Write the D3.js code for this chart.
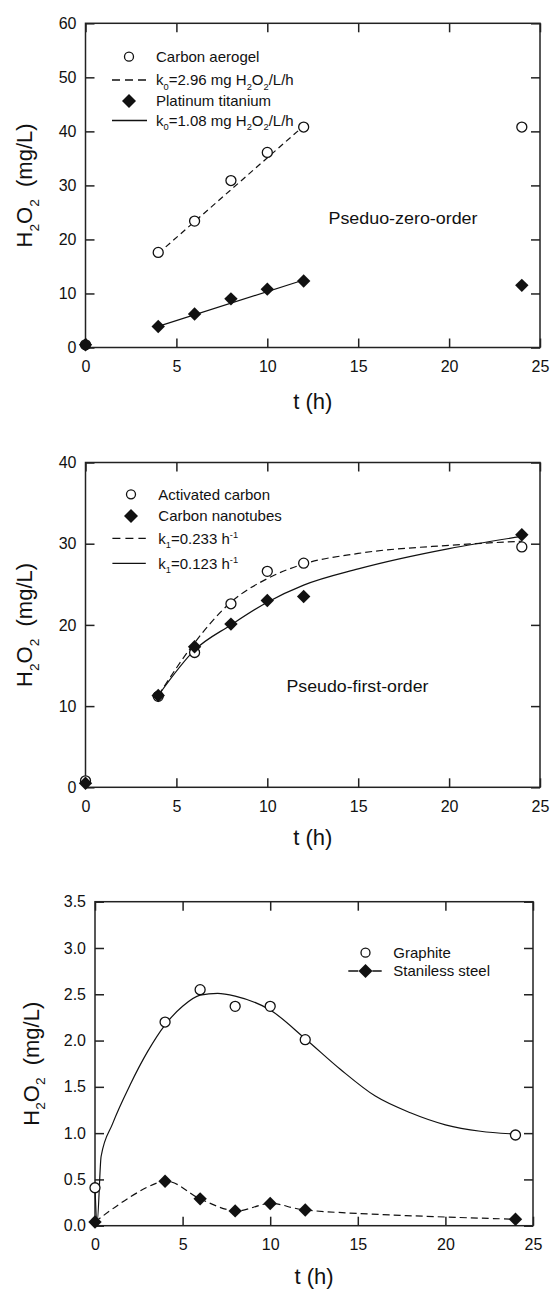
<!DOCTYPE html>
<html>
<head>
<meta charset="utf-8">
<script src="https://cdn.jsdelivr.net/npm/d3@7"></script>
<style>
    body { margin: 0; background: #fff; }
    svg { display: block; font-family: "Liberation Sans", Arial, sans-serif; }
</style>
</head>
<body>
<svg id="chart" width="551" height="1289"></svg>
<script>
// values
const hours = [0, 4, 6, 8, 10, 12, 24];
const xTicks = [0, 5, 10, 15, 20, 25];

// top panel: pseudo-zero-order
const carbonAerogel = [0.5, 17.6, 23.4, 30.9, 36.1, 40.8, 40.8];
const platinumTitanium = [0.5, 3.9, 6.2, 9.0, 10.8, 12.3, 11.5];
const zeroFitHours = [4, 12];
const aerogelFit = [17.4, 41.0];
const platinumFit = [3.9, 12.5];
const yTicksZero = [0, 10, 20, 30, 40, 50, 60];

// middle panel: pseudo-first-order
const activatedCarbon = [0.8, 11.2, 16.6, 22.6, 26.6, 27.6, 29.6];
const carbonNanotubes = [0.5, 11.3, 17.3, 20.1, 23.0, 23.5, 31.1];
const firstFitHours = [4, 6, 8, 10, 12, 15, 20, 24];
const activatedFit = [11.3, 17.8, 22.8, 25.7, 27.5, 28.8, 29.8, 30.3];
const nanotubesFit = [11.3, 16.9, 20.0, 22.8, 24.9, 26.9, 29.4, 30.9];
const yTicksFirst = [0, 10, 20, 30, 40];

// bottom panel
const graphite = [0.41, 2.20, 2.55, 2.37, 2.37, 2.01, 0.98];
const stainlessSteel = [0.04, 0.48, 0.29, 0.16, 0.24, 0.17, 0.07];
const graphiteFitHours = [0, 0.12, 0.35, 1.0, 2.0, 3.0, 4, 5, 6, 7, 8, 10, 12, 14, 16, 18, 20, 22, 24];
const graphiteFit = [0.41, 0.03, 0.75, 1.1, 1.52, 1.88, 2.17, 2.37, 2.49, 2.51, 2.48, 2.33, 2.02, 1.69, 1.40, 1.22, 1.09, 1.02, 0.99];
const yTicksThird = [0, 0.5, 1.0, 1.5, 2.0, 2.5, 3.0, 3.5];

const INK = '#111';
const AXIS = '#222';
const svg = d3.select('#chart');

function makePanel(cfg) {
    const x = d3.scaleLinear().domain([0, 25]).range([cfg.left, cfg.right]);
    const y = d3.scaleLinear().domain([0, cfg.yMax]).range([cfg.bottom, cfg.top]);

    const axes = [
        [d3.axisBottom(x).tickValues(xTicks).tickPadding(13), `translate(0,${cfg.bottom})`],
        [d3.axisTop(x).tickValues(xTicks).tickFormat(''), `translate(0,${cfg.top})`],
        [d3.axisLeft(y).tickValues(cfg.yTicks).tickPadding(9).tickFormat(cfg.fmt), `translate(${cfg.left},0)`],
        [d3.axisRight(y).tickValues(cfg.yTicks).tickFormat(''), `translate(${cfg.right},0)`]
    ];
    axes.forEach(([axis, tr]) => {
        const g = svg.append('g')
            .attr('transform', tr)
            .call(axis.tickSizeInner(-9).tickSizeOuter(0));
        g.attr('font-size', 16).attr('font-family', null);
        g.select('.domain').remove();
        g.selectAll('line').attr('stroke', AXIS).attr('stroke-width', 1.5);
        g.selectAll('text').attr('fill', INK);
    });

    svg.append('rect')
        .attr('x', cfg.left).attr('y', cfg.top)
        .attr('width', cfg.right - cfg.left).attr('height', cfg.bottom - cfg.top)
        .attr('fill', 'none').attr('stroke', AXIS).attr('stroke-width', 1.5);

    // axis titles
    svg.append('text')
        .attr('x', (cfg.left + cfg.right) / 2).attr('y', cfg.xTitleY)
        .attr('text-anchor', 'middle').attr('font-size', 22).attr('fill', INK)
        .text('t (h)');

    const yt = svg.append('text')
        .attr('transform', `translate(${cfg.yTitleX},${(cfg.top + cfg.bottom) / 2}) rotate(-90)`)
        .attr('text-anchor', 'middle').attr('fill', INK);
    rich(yt, [['H', 'n'], ['2', 'sub'], ['O', 'n'], ['2', 'sub'], ['  (mg/L)', 'n']], 22);

    return {x, y};
}

function rich(text, parts, size) {
    let shift = 0;
    parts.forEach(([s, kind]) => {
        const target = kind === 'sub' ? size * 0.3 : kind === 'sup' ? -size * 0.38 : 0;
        text.append('tspan')
            .attr('dy', target - shift)
            .attr('font-size', kind === 'n' ? size : size * 0.62)
            .style('white-space', 'pre')
            .text(s);
        shift = target;
    });
}

const diamond = r => `M0,${-r}L${r},0L0,${r}L${-r},0Z`;

function drawCircles(p, xs, ys) {
    svg.append('g').selectAll('circle')
        .data(xs.map((t, i) => [t, ys[i]]))
        .join('circle')
        .attr('cx', d => p.x(d[0])).attr('cy', d => p.y(d[1]))
        .attr('r', 5).attr('fill', '#fff').attr('stroke', INK).attr('stroke-width', 1.3);
}

function drawDiamonds(p, xs, ys) {
    svg.append('g').selectAll('path')
        .data(xs.map((t, i) => [t, ys[i]]))
        .join('path')
        .attr('transform', d => `translate(${p.x(d[0])},${p.y(d[1])})`)
        .attr('d', diamond(6.7)).attr('fill', INK);
}

function drawLine(p, xs, ys, dash, curve) {
    const line = d3.line()
        .x(d => p.x(d[0])).y(d => p.y(d[1]))
        .curve(curve || d3.curveLinear);
    svg.append('path')
        .datum(xs.map((t, i) => [t, ys[i]]))
        .attr('d', line)
        .attr('fill', 'none').attr('stroke', INK).attr('stroke-width', 1.2)
        .attr('stroke-dasharray', dash || null);
}

function legendRow(lg, row) {
    const {mx, x0, x1, tx} = lg;
    if (row.line) {
        svg.append('line')
            .attr('x1', x0).attr('x2', x1).attr('y1', row.y).attr('y2', row.y)
            .attr('stroke', INK).attr('stroke-width', 1.3)
            .attr('stroke-dasharray', row.line === 'solid' ? null : row.line);
    }
    if (row.marker === 'circle') {
        svg.append('circle').attr('cx', mx).attr('cy', row.y).attr('r', 4.5)
            .attr('fill', '#fff').attr('stroke', INK).attr('stroke-width', 1.3);
    } else if (row.marker === 'diamond') {
        svg.append('path').attr('transform', `translate(${mx},${row.y})`)
            .attr('d', diamond(7)).attr('fill', INK);
    }
    const t = svg.append('text').attr('x', tx).attr('y', row.y + 5.3).attr('fill', INK);
    rich(t, row.parts, 15);
}

// ---------- panel 1 ----------
const p1 = makePanel({left: 85.5, right: 540, top: 23.3, bottom: 347.5, yMax: 60,
    yTicks: yTicksZero, fmt: d3.format('d'), xTitleY: 408.5, yTitleX: 32});
drawLine(p1, zeroFitHours, aerogelFit, '6,4');
drawLine(p1, zeroFitHours, platinumFit);
drawCircles(p1, hours, carbonAerogel);
drawDiamonds(p1, hours, platinumTitanium);

const lg1 = {mx: 129, x0: 112, x1: 147, tx: 156};
[
    {y: 56.7, marker: 'circle', parts: [['Carbon aerogel', 'n']]},
    {y: 80, line: '8,5', parts: [['k', 'n'], ['0', 'sub'], ['=2.96 mg H', 'n'], ['2', 'sub'], ['O', 'n'], ['2', 'sub'], ['/L/h', 'n']]},
    {y: 101, marker: 'diamond', parts: [['Platinum titanium', 'n']]},
    {y: 120.5, line: 'solid', parts: [['k', 'n'], ['0', 'sub'], ['=1.08 mg H', 'n'], ['2', 'sub'], ['O', 'n'], ['2', 'sub'], ['/L/h', 'n']]}
].forEach(r => legendRow(lg1, r));

svg.append('text').attr('x', 328.5).attr('y', 223.5)
    .attr('font-size', 16).attr('fill', INK)
    .attr('textLength', 149).attr('lengthAdjust', 'spacingAndGlyphs')
    .text('Pseduo-zero-order');

// ---------- panel 2 ----------
const p2 = makePanel({left: 85.5, right: 540, top: 462.5, bottom: 787.3, yMax: 40,
    yTicks: yTicksFirst, fmt: d3.format('d'), xTitleY: 845.4, yTitleX: 32});
drawLine(p2, firstFitHours, activatedFit, '7,4', d3.curveMonotoneX);
drawLine(p2, firstFitHours, nanotubesFit, null, d3.curveMonotoneX);
drawCircles(p2, hours, activatedCarbon);
drawDiamonds(p2, hours, carbonNanotubes);

const lg2 = {mx: 131, x0: 112.4, x1: 145.8, tx: 158.3};
[
    {y: 494.3, marker: 'circle', parts: [['Activated carbon', 'n']]},
    {y: 516, marker: 'diamond', parts: [['Carbon nanotubes', 'n']]},
    {y: 538.3, line: '8,5', parts: [['k', 'n'], ['1', 'sub'], ['=0.233 h', 'n'], ['-1', 'sup']]},
    {y: 563.3, line: 'solid', parts: [['k', 'n'], ['1', 'sub'], ['=0.123 h', 'n'], ['-1', 'sup']]}
].forEach(r => legendRow(lg2, r));

svg.append('text').attr('x', 286.5).attr('y', 691.5)
    .attr('font-size', 16).attr('fill', INK)
    .attr('textLength', 142).attr('lengthAdjust', 'spacingAndGlyphs')
    .text('Pseudo-first-order');

// ---------- panel 3 ----------
const p3 = makePanel({left: 95, right: 533, top: 901.7, bottom: 1225.7, yMax: 3.5,
    yTicks: yTicksThird, fmt: d3.format('.1f'), xTitleY: 1284, yTitleX: 38.5});
drawLine(p3, graphiteFitHours, graphiteFit, null, d3.curveMonotoneX);
drawLine(p3, hours, stainlessSteel, '7,4', d3.curveCatmullRom);
drawCircles(p3, hours, graphite);
drawDiamonds(p3, hours, stainlessSteel);

const lg3 = {mx: 365.5, x0: 348.3, x1: 381.7, tx: 393.3};
[
    {y: 952.7, marker: 'circle', parts: [['Graphite', 'n']]},
    {y: 971, marker: 'diamond', line: '10,14', parts: [['Staniless steel', 'n']]}
].forEach(r => legendRow(lg3, r));
</script>
</body>
</html>
